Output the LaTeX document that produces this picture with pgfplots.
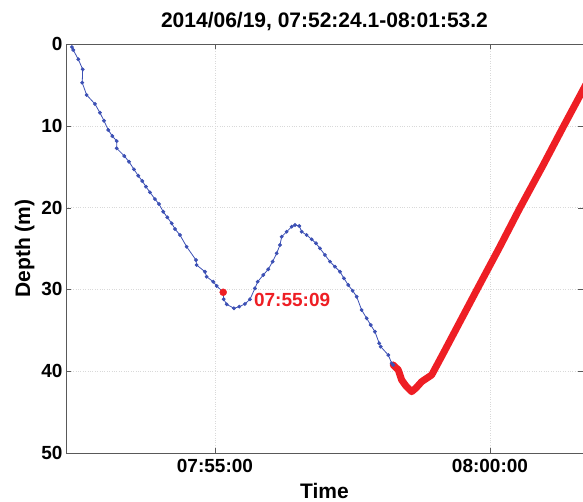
\documentclass[border=0pt]{standalone}
\usepackage{fontspec}
\setmainfont{Liberation Sans}
\usepackage{pgfplots}
\pgfplotsset{compat=1.18}
\definecolor{bluel}{RGB}{60,80,180}
\definecolor{redl}{RGB}{238,30,36}
\begin{document}
\begin{tikzpicture}
\begin{axis}[
 at={(66pt,48pt)}, anchor=south west,
 scale only axis, width=517pt, height=409pt,
 xmin=-162.5, xmax=401.5, ymin=0, ymax=50, y dir=reverse,
 xtick={0,300}, xticklabels={07:55:00,08:00:00},
 ytick={0,10,...,50},
 grid=major, grid style={dotted, gray!30},
 tick align=inside, axis line style={gray!70!black}, major tick style={gray!70!black}, major tick length=5pt,
 ticklabel style={font=\fontsize{19}{22}\selectfont\bfseries},
 xticklabel style={yshift=-3pt},
 /pgf/number format/assume math mode=true,
 title={2014/06/19, 07:52:24.1-08:01:53.2},
 title style={font=\fontsize{21}{24}\selectfont\bfseries, yshift=4pt},
 xlabel={Time}, ylabel={Depth (m)},
 label style={font=\fontsize{21}{24}\selectfont\bfseries},
 xlabel style={yshift=-3pt},
]
\addplot[bluel, line width=0.8pt, mark=*, mark size=1.5pt] coordinates {
(-156,0.37) (-154.6,0.73) (-149.1,1.87) (-144.3,3.09) (-144.8,4.73) (-140.0,6.23)
(-130.9,7.33) (-125.5,8.40) (-121.1,9.38) (-116.4,10.51) (-112.0,11.25) (-107.2,11.86)
(-107.2,12.75) (-98.9,13.69) (-93.8,14.39) (-88.4,15.32) (-83.7,16.10) (-79.3,16.75)
(-75.3,17.44) (-70.9,18.13) (-65.5,18.95) (-61.1,19.56) (-56.4,20.5) (-52.0,21.19)
(-47.2,21.92) (-43.6,22.62) (-38.2,23.35) (-30.9,24.78) (-20.7,26.41) (-20.0,27.02)
(-10.9,27.84) (-9.1,28.45) (-1.9,29.06) (1.9,29.58) (9,30.35) (9.5,31.2)
(12.8,31.82) (20.7,32.31) (26.5,32.11) (32.7,31.78) (38.2,31.21) (43.6,29.87)
(46.6,29.06) (52.7,28.24) (58.1,27.54) (62.9,26.61) (67.3,25.59) (70.9,24.57)
(72.8,23.56) (78.2,22.95) (83.7,22.33) (87.3,22.13) (92.0,22.25) (94.6,22.95)
(100.0,23.35) (105.5,23.88) (110.2,24.36) (114.5,24.98) (120.0,25.79) (125.5,26.61)
(130.9,27.22) (136.4,27.84) (140.7,28.64) (145.4,29.46) (150.2,30.16) (154.6,30.89)
(160.0,32.52) (165.5,33.53) (169.9,34.35) (174.5,35.17) (179.2,36.59) (180.8,37.0)
(189.1,38.02) (192.8,39.03) (194.5,39.24)
};
\addplot[redl, line width=7pt, line join=round, line cap=round] coordinates {
(194.5,39.24) (200.0,39.85) (203.7,41.08) (208.4,41.81) (214.6,42.5) (219.3,42.05)
(225.5,41.28) (236.4,40.46) (249.1,37.81) (267.3,33.95) (285.0,30.2) (310,24.95)
(332.4,20.1) (357.8,14.85) (379.6,10.2) (401.5,5.62) (413,3.2)
};
\addplot[only marks, redl, mark=*, mark size=3.5pt] coordinates {(9,30.35)};
\node[redl, anchor=west, inner sep=0pt, font=\fontsize{19}{22}\selectfont\bfseries] at (axis cs:42.5,31.3) {07:55:09};
\end{axis}
\pgfresetboundingbox
\path[use as bounding box] (0,0) rectangle (583pt,501pt);
\end{tikzpicture}
\end{document}
